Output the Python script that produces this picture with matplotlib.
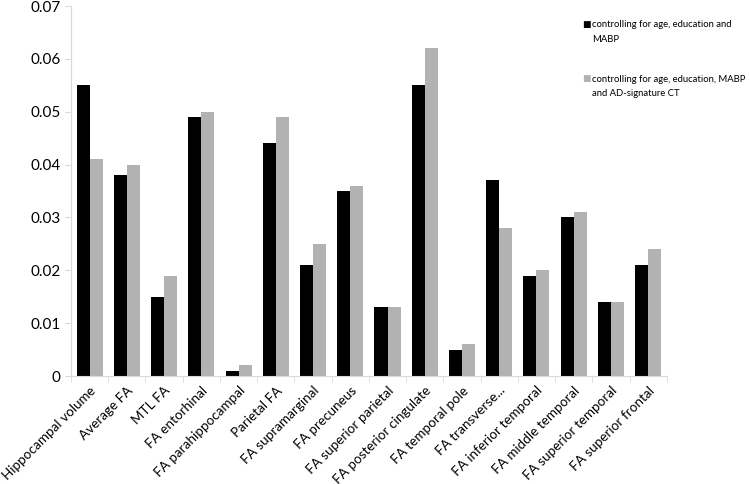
import numpy as np
import matplotlib.pyplot as plt

plt.rcParams['font.family'] = ['Lato', 'DejaVu Sans']

categories = ['Hippocampal volume', 'Average FA', 'MTL FA', 'FA entorhinal',
              'FA parahippocampal', 'Parietal FA', 'FA supramarginal',
              'FA precuneus', 'FA superior parietal', 'FA posterior cingulate',
              'FA temporal pole', 'FA transverse...', 'FA inferior temporal',
              'FA middle temporal', 'FA superior temporal', 'FA superior frontal']
model1 = [0.055, 0.038, 0.015, 0.049, 0.001, 0.044, 0.021, 0.035,
          0.013, 0.055, 0.005, 0.037, 0.019, 0.030, 0.014, 0.021]
model2 = [0.041, 0.040, 0.019, 0.050, 0.002, 0.049, 0.025, 0.036,
          0.013, 0.062, 0.006, 0.028, 0.020, 0.031, 0.014, 0.024]
label1 = 'controlling for age, education and\nMABP'
label2 = 'controlling for age, education, MABP\nand AD-signature CT'
colors = ['black', '#b2b2b2']

fig = plt.figure(figsize=(7.5, 4.84), dpi=100)
ax = fig.add_axes([0.0947, 0.2231, 0.7943, 0.7645])

x = np.arange(len(categories))
w = 0.35
ax.bar(x - w / 2, model1, w, color=colors[0])
ax.bar(x + w / 2, model2, w, color=colors[1])

ax.set_xlim(-0.5, len(categories) - 0.5)
ax.set_ylim(0, 0.07)
ax.set_yticks(np.arange(0, 0.071, 0.01))
ax.set_yticklabels(['0', '0.01', '0.02', '0.03', '0.04', '0.05', '0.06', '0.07'])
ax.set_xticks(x)
ax.set_xticklabels(categories, rotation=45, ha='right', rotation_mode='anchor')
ax.set_xticks(np.arange(-0.5, len(categories)), minor=True)

for s in ['top', 'right']:
    ax.spines[s].set_visible(False)
for s in ['left', 'bottom']:
    ax.spines[s].set_color('#d9d9d9')
ax.tick_params(axis='y', colors='#d9d9d9', labelcolor='black', length=4,
               labelsize=11)
ax.tick_params(axis='x', which='major', length=0, labelsize=9.7, pad=6)
ax.tick_params(axis='x', which='minor', colors='#d9d9d9', length=4)

# legend, drawn by hand so the marker sits on the first line
for lab, col, ytop in [(label1, colors[0], 0.958), (label2, colors[1], 0.846)]:
    fig.text(0.776, ytop + 0.001, '\u25a0', color=col, fontsize=6.5, va='top',
             family='DejaVu Sans')
    fig.text(0.790, ytop, lab, fontsize=6.8, va='top', linespacing=1.75)

fig.savefig('out.png', dpi=100)
